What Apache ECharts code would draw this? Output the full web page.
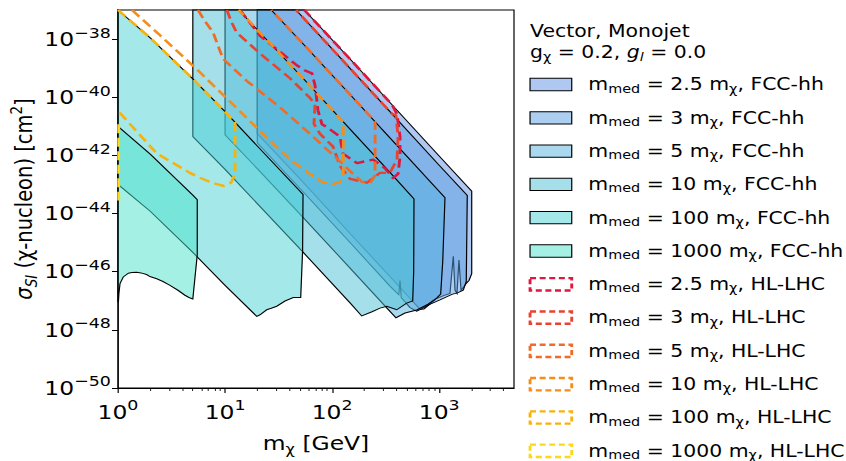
<!DOCTYPE html>
<html><head><meta charset="utf-8">
<script src="https://cdn.jsdelivr.net/npm/echarts@6/dist/echarts.min.js"></script>
<style>
html,body{margin:0;padding:0;background:#fff;overflow:hidden;width:846px;height:461px}
#c{width:705px;height:461px;transform:scaleX(1.2);transform-origin:0 0}
</style>
</head><body><div id="c"></div>
<script>
// ---------- axis ticks ----------
const xTicks = [1, 10, 100, 1000];
const xMinorTicks = [2,3,4,5,6,7,8,9,20,30,40,50,60,70,80,90,200,300,400,500,600,700,800,900,2000,3000,4000];
const yTicks = [1e-50,1e-48,1e-46,1e-44,1e-42,1e-40,1e-38];
const yRange = [1e-50, 1e-37];

// ---------- FCC-hh regions [m_chi GeV, sigma cm^2] ----------
const fcc_2p5 = [[20,1.0e-37],[20,5.6e-42],[53.5,1.2e-43],[150,1.9e-45],[347,6.8e-47],[662,5.1e-48],[721,5.2e-48],[830,8.0e-48],[948,1.2e-47],[1100,1.5e-47],[1262,1.8e-47],[1355,3.4e-46],[1406,2.3e-47],[1467,1.8e-47],[1531,2.5e-46],[1600,2.3e-47],[1700,3.0e-47],[1782,3.9e-47],[1900,5.0e-47],[2014,8.5e-47],[2014,5.9e-44],[1000,9.5e-43],[347,6.6e-41],[150,1.9e-39],[55,1.0e-37]];
const fcc_3 = [[20,1.0e-37],[20,2.7e-42],[53.5,5.6e-44],[150,9.3e-46],[347,3.2e-47],[420,1.6e-47],[431,5.0e-47],[442,1.3e-47],[534,5.8e-48],[617,4.4e-48],[700,5.5e-48],[787,7.1e-48],[1018,1.07e-47],[1318,1.66e-47],[1500,1.9e-47],[1680,2.3e-47],[1791,4.6e-47],[1830,4.2e-44],[1000,4.6e-43],[347,3.2e-41],[150,9.1e-40],[100,4.6e-39],[46,1.0e-37]];
const fcc_5 = [[10,1.0e-37],[10,5.1e-42],[20,3.5e-43],[53.5,7.4e-45],[150,1.23e-46],[347,4.3e-48],[395,2.6e-48],[480,3.8e-48],[617,4.8e-48],[787,7.6e-48],[948,1.23e-47],[1033,1.7e-47],[1080,2.3e-46],[1133,3.5e-44],[347,4.0e-42],[150,1.15e-40],[53.5,6.9e-39],[27,1.0e-37]];
const fcc_10 = [[5,1.0e-37],[5,4.4e-42],[10,3.3e-43],[20,2.2e-44],[53.5,4.7e-46],[150,7.8e-48],[189,3.0e-48],[236,4.2e-48],[280,5.6e-48],[324,6.5e-48],[401,4.9e-48],[497,8.3e-48],[566,9.8e-48],[578,1.0e-46],[582,3.2e-44],[347,2.6e-43],[150,7.4e-42],[53.5,4.5e-40],[20,2.1e-38],[13.4,1.0e-37]];
const fcc_100 = [[1,1.0e-37],[2,1.1e-38],[5,4.3e-40],[10,3.2e-41],[20,2.1e-42],[53.5,4.5e-44],[53,5.1e-46],[50.9,1.3e-47],[43.4,1.3e-47],[36.3,9.8e-48],[30.4,6.5e-48],[27,5.5e-48],[24.5,4.9e-48],[21.2,3.3e-48],[19.8,2.9e-48],[10,3.4e-47],[5,4.6e-46],[2,1.2e-44],[1,1.0e-43]];
const fcc_1000 = [[1,1.0e-41],[2,1.1e-42],[5,4.3e-44],[5.5,3.0e-44],[5.5,3.8e-46],[5.0,1.15e-47],[4.6,1.3e-47],[4.22,1.55e-47],[3.63,2.3e-47],[3.06,3.4e-47],[2.63,4.6e-47],[2.3,5.7e-47],[1.99,6.8e-47],[1.85,8.0e-47],[1.64,9.1e-47],[1.49,9.5e-47],[1.35,9.3e-47],[1.25,8.9e-47],[1.12,6.6e-47],[1.044,3.9e-47],[1.02,1.8e-47],[1.01,9.8e-48],[1,8.9e-48]];

// ---------- HL-LHC contours ----------
const hl_2p5 = [[13.8,1.0e-37],[21.2,1.3e-38],[46.7,1.26e-39],[55.8,8.3e-40],[64.9,6.6e-40],[69.2,2.6e-40],[73.8,3.5e-41],[80.4,1.17e-41],[89.6,9.3e-42],[118.5,4.4e-42],[126.4,1.15e-42],[171,5.4e-43],[241,7.2e-43],[312,3.6e-43],[370,1.66e-43],[413,2.3e-43],[431,9.1e-43],[431,4.4e-42],[404,2.6e-41],[362,5.6e-41],[150,1.9e-39],[55,1.0e-37]];
const hl_3 = [[10.4,1.0e-37],[11.4,4.1e-38],[12.8,1.7e-38],[21.2,3.2e-39],[40.4,4.5e-40],[62.1,9.5e-41],[69.2,5.6e-41],[67.7,1.2e-41],[77.1,5.5e-42],[102,2.0e-42],[118.5,4.3e-43],[147,1.55e-43],[212,1.15e-43],[280,2.5e-43],[347,2.5e-43],[404,7.2e-43],[413,4.4e-42],[395,2.4e-41],[362,2.7e-41],[150,9.1e-40],[53.5,5.5e-38],[46,1.0e-37]];
const hl_5 = [[5.59,1.0e-37],[6.49,4.1e-38],[7.72,1.7e-38],[9.57,2.1e-39],[16.0,3.6e-40],[32.6,4.5e-41],[62.1,5.5e-42],[106,9.1e-43],[147,2.9e-43],[190,1.23e-43],[226,1.1e-43],[252,2.1e-43],[252,1.45e-41],[150,1.15e-40],[53.5,6.9e-39],[27,1.0e-37]];
const hl_10 = [[1.35,1.0e-37],[2.47,1.35e-38],[5.83,7.2e-40],[11.1,7.1e-41],[21.2,6.9e-42],[40.4,7.2e-43],[62.1,2.3e-43],[82.2,1.17e-43],[102,1.02e-43],[118.5,1.23e-43],[127.2,2.3e-43],[127.2,1.4e-41],[53.5,4.5e-40],[20,2.1e-38],[13.4,1.0e-37]];
const hl_100 = [[1,1.0e-37],[2,1.1e-38],[5,4.3e-40],[10,3.2e-41],[12.4,1.4e-41],[12.4,2.3e-43],[11.4,1.15e-43],[9.62,8.9e-44],[7.55,1.14e-43],[5.83,1.7e-43],[4.7,2.5e-43],[2.3,1.17e-42],[1,3.4e-41]];
const hl_1000 = [[1.015,1.17e-41],[1.015,2.8e-44]];

// ---------- names / colours ----------
const fccNames = ['2.5','3','5','10','100','1000'];
const fccData = [fcc_2p5, fcc_3, fcc_5, fcc_10, fcc_100, fcc_1000];
const fccColors = ['rgba(95,145,229,0.5)','rgba(89,157,225,0.5)','rgba(85,177,221,0.5)','rgba(75,193,213,0.5)','rgba(73,209,213,0.5)','rgba(73,225,201,0.5)'];
const hlData = [hl_2p5, hl_3, hl_5, hl_10, hl_100, hl_1000];
const hlColors = ['#e0173c','#e8432f','#ef6b2a','#f48d1b','#f7b20b','#fbd81a'];

// the y axis works in decades (log10 of sigma), so tiny cm^2 values keep full precision
const dec = v => Math.round(Math.log10(v) * 1e6) / 1e6;
const toDec = pts => pts.map(p => [p[0], dec(p[1])]);

const FF = 'DejaVu Sans';
const richTick = {
  b:{fontFamily:FF, fontSize:19.5, lineHeight:28, color:'#000'},
  s:{fontFamily:FF, fontSize:14.5, lineHeight:10, verticalAlign:'top', color:'#000'}
};
const richLab = {
  t:{fontFamily:FF, fontSize:19.5, lineHeight:26, color:'#000'},
  i:{fontFamily:FF, fontSize:19.5, lineHeight:26, fontStyle:'italic', color:'#000'},
  s:{fontFamily:FF, fontSize:13.5, lineHeight:13, verticalAlign:'bottom', color:'#000'},
  si:{fontFamily:FF, fontSize:13.5, lineHeight:13, verticalAlign:'bottom', fontStyle:'italic', color:'#000'},
  sp:{fontFamily:FF, fontSize:13.5, lineHeight:10, verticalAlign:'top', color:'#000'}
};
const richLeg = {
  t:{fontFamily:FF, fontSize:17, lineHeight:20, color:'#000'},
  i:{fontFamily:FF, fontSize:17, lineHeight:20, fontStyle:'italic', color:'#000'},
  s:{fontFamily:FF, fontSize:12, lineHeight:10, verticalAlign:'bottom', color:'#000'},
  si:{fontFamily:FF, fontSize:12, lineHeight:10, verticalAlign:'bottom', fontStyle:'italic', color:'#000'}
};

function fccSeries(k){
  const pts = toDec(fccData[k]), fill = fccColors[k];
  return {
    type:'custom', name:'FCC '+fccNames[k], data:pts, encode:{x:0,y:1},
    z:2, silent:true, animation:false,
    renderItem:function(params, api){
      if (params.dataIndex !== 0) return;
      return {type:'polygon', shape:{points: pts.map(p => api.coord(p))},
              style:{fill:fill, stroke:'#000', lineWidth:1}};
    }
  };
}
function hlSeries(k){
  return {
    type:'line', name:'HL '+fccNames[k], data:toDec(hlData[k]), symbol:'none', showSymbol:false,
    z:3, silent:true, animation:false, clip:true,
    lineStyle:{color:hlColors[k], width:2.4, type:[9,4.5], cap:'butt', join:'round'}
  };
}

const series = [];
for (let k=0;k<6;k++) series.push(fccSeries(k));
for (let k=0;k<6;k++) series.push(hlSeries(k));

// ---------- legend (graphic) ----------
const graphics = [];
graphics.push({type:'text', x:441.7, y:31, style:{text:'{t|Vector, Monojet}', rich:richLeg, verticalAlign:'middle', align:'left'}});
graphics.push({type:'text', x:441.7, y:52.5, style:{text:'{t|g}{s|χ}{t| = 0.2, }{i|g}{si|l}{t| = 0.0}', rich:richLeg, verticalAlign:'middle', align:'left'}});
for (let i=0;i<12;i++){
  const c = 84.5 + 33.3*i;
  const k = i % 6;
  const isFcc = i < 6;
  graphics.push({type:'rect', shape:{x:441.7, y:c-6.15, width:34.75, height:12.3},
    style: isFcc ? {fill:fccColors[k], stroke:'#000', lineWidth:1}
                 : {fill:'none', stroke:hlColors[k], lineWidth:2.4, lineDash:[5,3]}});
  graphics.push({type:'text', x:490.3, y:c, style:{
    text:'{t|m}{s|med}{t| = '+fccNames[k]+' m}{s|χ}{t|, '+(isFcc?'FCC-hh':'HL-LHC')+'}',
    rich:richLeg, verticalAlign:'middle', align:'left'}});
}

const chart = echarts.init(document.getElementById('c'), null, {renderer:'svg', width:705, height:461});
chart.setOption({
  animation:false,
  backgroundColor:'#fff',
  grid:{left:98.33, right:276.67, top:10, bottom:64.5, show:true, borderColor:'#000', borderWidth:1, backgroundColor:'transparent'},
  xAxis:[{
    type:'log', logBase:10, min:1, max:5000, position:'bottom',
    axisLine:{show:true, onZero:false, lineStyle:{color:'#000', width:1}},
    axisTick:{show:true, length:5, customValues:xTicks, lineStyle:{color:'#000', width:1}},
    axisLabel:{customValues:xTicks, margin:10, formatter:v => '{b|10}{s|'+Math.round(Math.log10(v))+'}', rich:richTick},
    splitLine:{show:false},
    name:'{t|m}{s|χ}{t| [GeV]}', nameLocation:'middle', nameGap:42,
    nameTextStyle:{rich:richLab}
  },{
    type:'log', logBase:10, min:1, max:5000, position:'bottom',
    axisLine:{show:false},
    axisTick:{show:true, length:3, customValues:xMinorTicks, lineStyle:{color:'#000', width:0.8}},
    axisLabel:{show:false}, splitLine:{show:false}
  }],
  yAxis:{
    type:'value', min:dec(yRange[0]), max:dec(yRange[1]),
    axisLine:{show:true, onZero:false, lineStyle:{color:'#000', width:1}},
    axisTick:{show:true, length:5, customValues:yTicks.map(dec), lineStyle:{color:'#000', width:1}},
    axisLabel:{customValues:yTicks.map(dec), margin:6, formatter:v => '{b|10}{s|−'+(-Math.round(v))+'}', rich:richTick},
    splitLine:{show:false},
    name:'{i|σ}{si|SI}{t| (χ-nucleon) [cm}{sp|2}{t|]}', nameLocation:'middle', nameRotate:90, nameGap:58,
    nameTextStyle:{rich:richLab}
  },
  series: series,
  graphic: graphics
});
</script>
</body></html>
